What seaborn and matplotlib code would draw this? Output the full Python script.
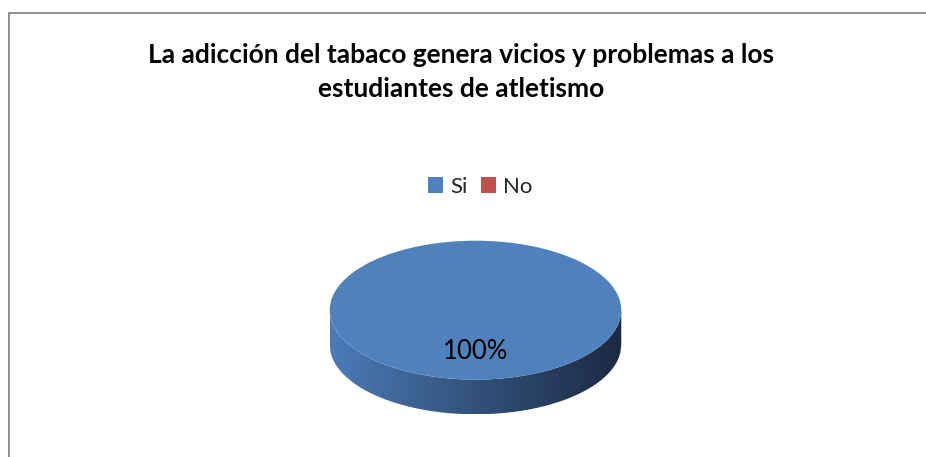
import matplotlib
matplotlib.use("Agg")
import matplotlib.pyplot as plt
import numpy as np
import seaborn as sns
from matplotlib.patches import Patch, Polygon, Rectangle
from matplotlib.colors import LinearSegmentedColormap

sns.set_theme(style="white")
plt.rcParams['font.family'] = ['Lato', 'DejaVu Sans']

# datos
categorias = ['Si', 'No']
valores = [100, 0]
colores = ['#4F81BD', '#C0504D']
titulo = 'La adicción del tabaco genera vicios y problemas a los\nestudiantes de atletismo'

W, H = 926, 457
fig = plt.figure(figsize=(W / 100, H / 100), dpi=100)
fig.patch.set_facecolor('white')

# marco del gráfico
fig.patches.append(Rectangle((8.5 / W, -0.01), (W - 8.5) / W + 0.01, (H - 12.5) / H + 0.01,
                             transform=fig.transFigure, fill=False,
                             edgecolor='#868686', linewidth=1.3))

fig.text(461 / W, 1 - 72 / H, titulo, ha='center', va='center', fontsize=19,
         fontweight='bold', color='black', linespacing=1.5)

# pastel en "3D": superficie superior + lateral con degradado
ax = fig.add_axes([329 / W, 42 / H, 293 / W, 175 / H])
prof = 0.5
wedges, textos, autotextos = ax.pie(
    valores, colors=colores, startangle=90, counterclock=False, radius=1,
    autopct=lambda p: f'{p:.0f}%' if p > 0 else '', pctdistance=0.6,
    wedgeprops=dict(linewidth=0), textprops=dict(fontsize=18.5, color='black'))
ax.set_aspect('auto')

xs = np.linspace(-1, 1, 300)
borde = -np.sqrt(np.clip(1 - xs ** 2, 0, None))
poly = np.concatenate([np.column_stack([xs, borde]),
                       np.column_stack([xs[::-1], borde[::-1] - prof])])
lateral = Polygon(poly, closed=True, facecolor='none', edgecolor='none')
ax.add_patch(lateral)
cmap = LinearSegmentedColormap.from_list('lado', ['#4C7CB8', '#3A5F8E', '#2A4468', '#1C2A42'])
grad = np.linspace(0, 1, 256).reshape(1, -1)
im = ax.imshow(grad, extent=(-1, 1, -1 - prof, 0), cmap=cmap, aspect='auto', zorder=0.5)
im.set_clip_path(lateral)
for w in wedges:
    w.set_zorder(1)
ax.set_xlim(-1.005, 1.005)
ax.set_ylim(-1 - prof - 0.01, 1.01)
ax.axis('off')

manejadores = [Patch(facecolor=c, edgecolor='none') for c in colores]
fig.legend(manejadores, categorias, loc='center', bbox_to_anchor=(480 / W, 1 - 187 / H),
           ncol=2, frameon=False, fontsize=16, handlelength=0.7, handleheight=0.7,
           handletextpad=0.3, columnspacing=0.6)

fig.savefig('out.png', dpi=100)
